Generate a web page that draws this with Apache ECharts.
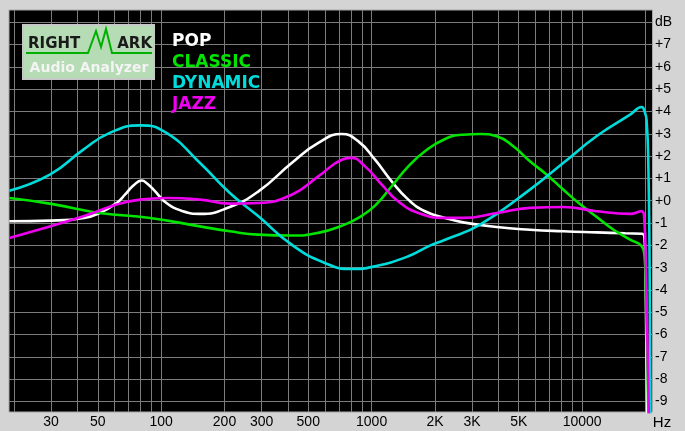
<!DOCTYPE html>
<html>
<head>
<meta charset="utf-8">
<script src="https://cdn.jsdelivr.net/npm/echarts@6/dist/echarts.min.js"></script>
<style>
  html, body { margin: 0; padding: 0; background: #d4d4d4; }
  #chart { width: 685px; height: 431px; }
</style>
</head>
<body>
<div id="chart"></div>
<script>
// Frequency grid (Hz) and dB grid
const gridFreqs = [20, 30, 40, 50, 60, 70, 80, 90, 100, 200, 300, 400, 500, 600, 700, 800, 900,
  1000, 2000, 3000, 4000, 5000, 6000, 7000, 8000, 9000, 10000, 20000];
const freqLabels = [30, 50, 100, 200, 300, 500, 1000, 2000, 3000, 5000, 10000];
const dbTicks = [-9, -8, -7, -6, -5, -4, -3, -2, -1, 0, 1, 2, 3, 4, 5, 6, 7, 8];

// Equalizer preset responses
const popFreq = [19, 30, 43, 51, 61.5, 67.3, 73.8, 80.9, 85.7, 92, 106, 127, 153, 212, 290, 417, 558, 721,
  865, 1038, 1245, 1494, 1792, 2234, 2723, 3926, 5650, 8130, 11700, 16000, 19300, 19800, 20000, 20500];
const popDb = [-0.92, -0.89, -0.77, -0.55, -0.1, 0.27, 0.68, 0.91, 0.77, 0.5, -0.1, -0.47, -0.59, -0.28, 0.42,
  1.69, 2.59, 2.99, 2.66, 1.84, 0.87, 0.05, -0.47, -0.77, -0.97, -1.18, -1.3, -1.37, -1.42, -1.46, -1.48, -1.7, -3, -12];

const classicFreq = [19, 30, 51, 88.5, 153, 212, 290, 417, 558, 721, 865, 1038, 1245, 1494, 1792, 2234, 2723,
  3275, 3926, 4710, 5650, 6790, 8130, 9770, 11700, 14100, 16900, 19200, 19800, 20100, 20900];
const classicDb = [0.12, -0.14, -0.55, -0.77, -1.15, -1.37, -1.52, -1.56, -1.44, -1.12, -0.77, -0.22, 0.65,
  1.54, 2.22, 2.77, 2.96, 2.99, 2.89, 2.44, 1.77, 1.17, 0.5, -0.15, -0.72, -1.3, -1.74, -2.04, -2.5, -4, -12];

const dynamicFreq = [19, 29.6, 42.7, 57, 79.4, 106, 153, 212, 290, 417, 600, 803, 1038, 1494, 1891, 2234,
  3275, 5650, 8130, 11700, 16900, 19200, 19800, 20250, 20650, 20950, 21200];
const dynamicDb = [0.45, 1.17, 2.29, 3.04, 3.38, 3.04, 1.69, 0.35, -0.7, -1.97, -2.79, -3.06, -2.94, -2.49,
  -2.01, -1.75, -1.07, 0.5, 1.69, 2.89, 3.86, 4.2, 4.0, 3.6, 1.5, -3.5, -12];

const jazzFreq = [19, 29.6, 42.7, 61.5, 79.4, 106, 153, 212, 290, 417, 558, 721, 798, 931, 1117, 1340, 1667,
  2234, 2723, 3926, 5650, 8130, 11700, 16900, 19200, 19700, 20100, 21000];
const jazzDb = [-1.67, -1.15, -0.7, -0.17, 0.05, 0.12, 0.05, -0.13, -0.1, 0.27, 1.09, 1.84, 1.92, 1.54, 0.72,
  -0.03, -0.55, -0.77, -0.77, -0.55, -0.32, -0.28, -0.47, -0.59, -0.47, -0.7, -3, -12];

const names = ['POP', 'CLASSIC', 'DYNAMIC', 'JAZZ'];
const colors = ['#ffffff', '#00e400', '#00dcdc', '#f000f0'];
const curves = [[popFreq, popDb], [classicFreq, classicDb], [dynamicFreq, dynamicDb], [jazzFreq, jazzDb]];

const zip = (xs, ys) => xs.map((x, i) => [x, ys[i]]);

const chart = echarts.init(document.getElementById('chart'), null, { renderer: 'canvas' });

const axisFont = 'Liberation Sans Narrow, Liberation Sans, Arial, sans-serif';

chart.setOption({
  animation: false,
  backgroundColor: '#d4d4d4',
  grid: {
    left: 9, top: 10, right: 32.5, bottom: 19,
    outerBoundsMode: 'none',
    show: true, backgroundColor: '#000000', borderColor: '#a8a8a8', borderWidth: 1
  },
  legend: {
    orient: 'vertical',
    left: 162, top: 28,
    icon: 'none',
    itemWidth: 0, itemHeight: 14, itemGap: 4,
    selectedMode: false,
    textStyle: { fontFamily: 'DejaVu Sans', fontWeight: 'bold', fontSize: 17, lineHeight: 17 },
    data: names.map((n, i) => ({ name: n, textStyle: { color: colors[i] } }))
  },
  xAxis: {
    type: 'log', logBase: 10,
    min: 18.93, max: 21600,
    axisLine: { show: false },
    axisTick: { show: false, customValues: gridFreqs },
    splitLine: { show: true, lineStyle: { color: '#7c7c7c', width: 1 } },
    minorSplitLine: { show: false },
    axisLabel: {
      customValues: freqLabels,
      margin: 3,
      color: '#000', fontFamily: axisFont, fontSize: 14,
      formatter: v => (v >= 2000 && v < 10000) ? (v / 1000) + 'K' : String(v)
    }
  },
  yAxis: {
    type: 'value', position: 'right',
    min: -9.47, max: 8.55,
    axisLine: { show: false },
    axisTick: { show: false, customValues: dbTicks },
    splitLine: { show: true, lineStyle: { color: '#7c7c7c', width: 1 } },
    axisLabel: {
      customValues: dbTicks,
      margin: 2.5,
      color: '#000', fontFamily: axisFont, fontSize: 14,
      formatter: v => v === 8 ? 'dB' : (v >= 0 ? '+' + v : String(v))
    }
  },
  graphic: [
    { type: 'rect', shape: { x: 23, y: 25, width: 131, height: 54 },
      style: { fill: '#b6dcb6', stroke: '#c8c8c8', lineWidth: 2 }, z: 100 },
    { type: 'polyline', shape: { points: [[26, 53], [88, 53], [96, 31], [101, 47], [106, 29], [112, 53], [152, 53]] },
      style: { stroke: '#00b000', lineWidth: 2, fill: null }, z: 101 },
    { type: 'text', x: 28, y: 44, z: 102,
      style: { text: 'RIGHT', fill: '#1a1a1a', font: 'bold 15px "DejaVu Sans"', verticalAlign: 'middle' } },
    { type: 'text', x: 152, y: 44, z: 102,
      style: { text: 'ARK', fill: '#1a1a1a', font: 'bold 15px "DejaVu Sans"', align: 'right', verticalAlign: 'middle' } },
    { type: 'text', x: 89, y: 68, z: 102,
      style: { text: 'Audio Analyzer', fill: '#f4f4f4', font: 'bold 14px "DejaVu Sans"', align: 'center', verticalAlign: 'middle',
        textShadowColor: '#6a6a6a', textShadowOffsetX: 1, textShadowOffsetY: 1, textShadowBlur: 0 } },
    { type: 'text', x: 662, y: 423, z: 102,
      style: { text: 'Hz', fill: '#000', font: '15px ' + axisFont, align: 'center', verticalAlign: 'middle' } }
  ],
  series: curves.map((c, i) => ({
    name: names[i],
    type: 'line',
    data: zip(c[0], c[1]),
    showSymbol: false,
    smooth: 0.5,
    clip: true,
    lineStyle: { color: colors[i], width: 2.6 },
    itemStyle: { color: colors[i] }
  }))
});
</script>
</body>
</html>
